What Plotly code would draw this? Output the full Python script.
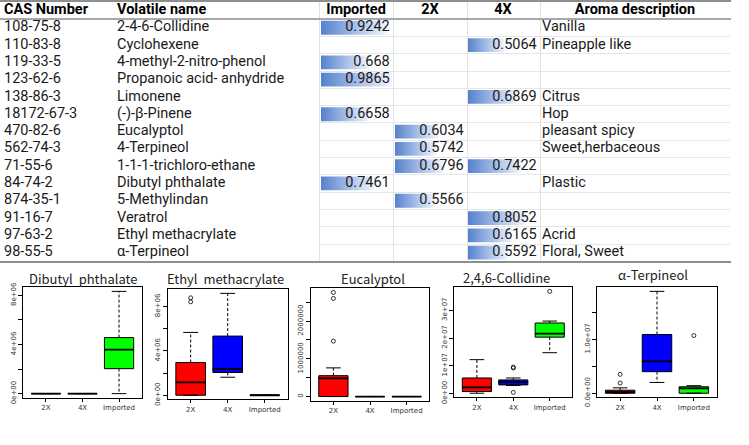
import plotly.graph_objects as go

W, H = 749, 445

# ---------------- table data ----------------
cas_numbers = ["108-75-8", "110-83-8", "119-33-5", "123-62-6", "138-86-3", "18172-67-3",
               "470-82-6", "562-74-3", "71-55-6", "84-74-2", "874-35-1", "91-16-7",
               "97-63-2", "98-55-5"]
volatile_names = ["2-4-6-Collidine", "Cyclohexene", "4-methyl-2-nitro-phenol",
                  "Propanoic acid- anhydride", "Limonene", "(-)-β-Pinene", "Eucalyptol",
                  "4-Terpineol", "1-1-1-trichloro-ethane", "Dibutyl phthalate",
                  "5-Methylindan", "Veratrol", "Ethyl methacrylate", "α-Terpineol"]
imported_vals = [0.9242, None, 0.668, 0.9865, None, 0.6658, None, None, None, 0.7461,
                 None, None, None, None]
x2_vals = [None, None, None, None, None, None, 0.6034, 0.5742, 0.6796, None, 0.5566,
           None, None, None]
x4_vals = [None, 0.5064, None, None, 0.6869, None, None, None, 0.7422, None, None,
           0.8052, 0.6165, 0.5592]
aroma = ["Vanilla", "Pineapple like", "", "", "Citrus", "Hop", "pleasant spicy",
         "Sweet,herbaceous", "", "Plastic", "", "", "Acrid", "Floral, Sweet"]
headers = ["CAS Number", "Volatile name", "Imported", "2X", "4X", "Aroma description"]

# ---------------- boxplot data ----------------
groups = ["2X", "4X", "Imported"]
panel_titles = ["Dibutyl  phthalate", "Ethyl  methacrylate", "Eucalyptol",
                "2,4,6-Collidine", "α-Terpineol"]
# per group: [lower whisker, q1, median, q3, upper whisker]
dibutyl_stats = [[0, 0, 0, 0, 0], [0, 0, 0, 0, 0], [0, 2.03e6, 3.58e6, 4.56e6, 8.32e6]]
dibutyl_out = [[], [], []]
ethyl_stats = [[0, 0, 1.15e6, 2.95e6, 5.66e6], [1.62e6, 2.05e6, 2.35e6, 5.33e6, 9.18e6],
               [0, 0, 0, 0, 0]]
ethyl_out = [[8.42e6, 8.78e6], [], []]
eucal_stats = [[0, 0, 0.48e6, 0.553e6, 0.76e6], [0, 0, 0, 0, 0], [0, 0, 0, 0, 0]]
eucal_out = [[1.47e6, 2.6e6, 2.76e6], [], []]
collid_stats = [[0.01e7, 0.07e7, 0.22e7, 0.56e7, 1.22e7], [0.29e7, 0.31e7, 0.41e7, 0.49e7, 0.56e7],
                [1.47e7, 2.03e7, 2.16e7, 2.54e7, 2.61e7]]
collid_out = [[], [0.92e7, 0.95e7, 0.04e7], [3.68e7]]
terp_stats = [[0, 0, 0.02e7, 0.056e7, 0.10e7], [0.20e7, 0.40e7, 0.59e7, 1.09e7, 1.89e7],
              [0, 0, 0.09e7, 0.12e7, 0.14e7]]
terp_out = [[0.19e7, 0.35e7], [], [1.07e7]]

tickvals_list = [[0, 2e6, 4e6, 6e6, 8e6], [0, 2e6, 4e6, 6e6, 8e6],
                 [0, 5e5, 1e6, 1.5e6, 2e6, 2.5e6], [0, 1e7, 2e7, 3e7],
                 [0, 5e6, 1e7, 1.5e7]]
ticktext_list = [["0e+00", "", "4e+06", "", "8e+06"], ["0e+00", "", "4e+06", "", "8e+06"],
                 ["0", "", "1000000", "", "2000000", ""], ["0e+00", "1e+07", "2e+07", "3e+07"],
                 ["0.0e+00", "", "1.0e+07", ""]]

all_stats = [dibutyl_stats, ethyl_stats, eucal_stats, collid_stats, terp_stats]
all_out = [dibutyl_out, ethyl_out, eucal_out, collid_out, terp_out]
box_colors = ["#FF0000", "#0000FF", "#00FF00"]

# ---------------- layout geometry (pixels) ----------------
TFONT = "Roboto"
FONT = "Noto Sans CJK KR"
TXT = "#1a1a1a"
TSIZE = 14.5
table_top, table_bot = 1.8, 261.3
tdom = [1 - table_bot / H, 1 - table_top / H]
TABLE_R = 730.5
col_bar = [(321, 393), (395, 467), (468, 540)]
num_anchor = 0.955
cas_x, name_x, aroma_x = 4, 117, 542
head_centers = [356, 430, 503, 635]

panels_px = [(23.3, 141.7, 287.3, 397.7), (167.7, 287.7, 289.3, 399.3),
             (310.7, 429.3, 288.3, 400.7), (454.3, 572.3, 287.3, 397.3),
             (597.3, 716.7, 287.3, 397.3)]
title_px = [(83, 278), (225, 278), (373, 278), (506, 277), (653, 274)]

fig = go.Figure()
n = len(cas_numbers)
rows = list(range(n))

# ---------- table text ----------
for xs, txts in [(cas_x, cas_numbers), (name_x, volatile_names), (aroma_x, aroma)]:
    fig.add_trace(go.Scatter(x=[xs] * n, y=rows, text=txts, mode="text",
                             textposition="middle right",
                             textfont=dict(family=TFONT, size=TSIZE, color=TXT),
                             xaxis="x", yaxis="y", hoverinfo="skip"))
fig.add_trace(go.Scatter(x=[cas_x, name_x], y=[-1, -1], text=["<b>%s</b>" % h for h in headers[:2]],
                         mode="text", textposition="middle right",
                         textfont=dict(family=TFONT, size=TSIZE, color="#000"),
                         xaxis="x", yaxis="y", hoverinfo="skip"))
fig.add_trace(go.Scatter(x=head_centers, y=[-1] * 4, text=["<b>%s</b>" % h for h in headers[2:]],
                         mode="text", textposition="middle center",
                         textfont=dict(family=TFONT, size=TSIZE, color="#000"),
                         xaxis="x", yaxis="y", hoverinfo="skip"))

# ---------- data bars ----------
for ci, vals in enumerate([imported_vals, x2_vals, x4_vals]):
    ax = "x%d" % (ci + 2)
    for r, v in enumerate(vals):
        if v is None:
            continue
        fig.add_trace(go.Scatter(
            x=[0, v, v, 0, 0], y=[r - 0.4, r - 0.4, r + 0.4, r + 0.4, r - 0.4],
            mode="lines", line=dict(width=0), fill="toself",
            fillgradient=dict(type="horizontal",
                              colorscale=[[0, "#5581CC"], [0.5, "#A3BCE8"], [1, "#F3F6FC"]]),
            xaxis=ax, yaxis="y", hoverinfo="skip"))
    rr = [r for r, v in enumerate(vals) if v is not None]
    fig.add_trace(go.Scatter(x=[num_anchor] * len(rr), y=rr, text=[repr(vals[r]) for r in rr],
                             mode="text", textposition="middle left",
                             textfont=dict(family=TFONT, size=TSIZE, color=TXT),
                             xaxis=ax, yaxis="y", hoverinfo="skip"))

# row-divider helper subplot
fig.add_trace(go.Scatter(x=[0], y=[0], mode="markers", marker=dict(opacity=0),
                         xaxis="x6", yaxis="y6", hoverinfo="skip"))

layout = dict(
    width=W, height=H, margin=dict(l=0, r=0, t=0, b=0, autoexpand=False),
    paper_bgcolor="white", plot_bgcolor="rgba(0,0,0,0)", showlegend=False,
    xaxis=dict(domain=[0, TABLE_R / W], range=[0, TABLE_R], anchor="y", automargin=False,
               showline=True, mirror=True, linecolor="#8E8E8E", linewidth=2,
               tickvals=[319, 393, 467, 540, 730], showticklabels=False, ticks="",
               showgrid=True, gridcolor="#E2E2E2", gridwidth=1, zeroline=False, fixedrange=True),
    yaxis=dict(domain=tdom, range=[n - 0.5, -1.5], anchor="x", tickvals=[-0.5], automargin=False,
               showgrid=True, gridcolor="#A8A8A8", gridwidth=2, showticklabels=False,
               ticks="", zeroline=False, showline=False),
    xaxis6=dict(domain=[319 / W, 730 / W], range=[0, 1], anchor="y6", visible=False,
                automargin=False),
    yaxis6=dict(domain=tdom, range=[n - 0.5, -1.5], anchor="x6", automargin=False,
                tickvals=[r + 0.5 for r in range(n - 1)], showgrid=True,
                gridcolor="#E6E6E6", gridwidth=1, showticklabels=False, ticks="",
                zeroline=False, showline=False),
)
for ci, (a, b) in enumerate(col_bar):
    layout["xaxis%d" % (ci + 2)] = dict(domain=[a / W, b / W], range=[0, 1], anchor="y",
                                        visible=False, fixedrange=True, automargin=False)

# ---------- boxplot panels ----------
annotations = []
for p in range(5):
    xi = 7 + p
    xa, ya = "x%d" % xi, "y%d" % xi
    stats, outs = all_stats[p], all_out[p]
    for g in range(3):
        lo, q1, med, q3, hi = stats[g]
        pos = g + 1
        fig.add_trace(go.Box(x=[pos], q1=[q1], median=[med], q3=[q3], lowerfence=[q1],
                             upperfence=[q3], width=0.8, whiskerwidth=0, boxpoints=False,
                             fillcolor=box_colors[g], line=dict(color="black", width=1),
                             xaxis=xa, yaxis=ya, hoverinfo="skip"))
        fig.add_trace(go.Scatter(x=[pos, pos, None, pos, pos], y=[q3, hi, None, q1, lo],
                                 mode="lines", line=dict(color="black", width=1, dash="3px,2px"),
                                 xaxis=xa, yaxis=ya, hoverinfo="skip"))
        fig.add_trace(go.Scatter(x=[pos - 0.2, pos + 0.2, None, pos - 0.2, pos + 0.2],
                                 y=[hi, hi, None, lo, lo], mode="lines",
                                 line=dict(color="black", width=1),
                                 xaxis=xa, yaxis=ya, hoverinfo="skip"))
        fig.add_trace(go.Scatter(x=[pos - 0.4, pos + 0.4], y=[med, med], mode="lines",
                                 line=dict(color="black", width=1.8),
                                 xaxis=xa, yaxis=ya, hoverinfo="skip"))
        if outs[g]:
            fig.add_trace(go.Scatter(x=[pos] * len(outs[g]), y=outs[g], mode="markers",
                                     marker=dict(symbol="circle-open", size=4, color="black",
                                                 line=dict(width=0.8)),
                                     xaxis=xa, yaxis=ya, hoverinfo="skip"))
    vals = [v for s in stats for v in s] + [v for o in outs for v in o]
    vmin, vmax = min(vals), max(vals)
    span = vmax - vmin
    l, r, t, b = panels_px[p]
    layout["xaxis%d" % xi] = dict(
        domain=[l / W, r / W], range=[0.38, 3.62], anchor=ya, tickvals=[1, 2, 3],
        ticktext=groups, showline=True, mirror=True, linecolor="black", linewidth=1,
        ticks="outside", ticklen=3, tickcolor="black", tickwidth=1, showgrid=False,
        zeroline=False, automargin=False,
        tickfont=dict(family="DejaVu Sans", size=7, color="#333"))
    layout["yaxis%d" % xi] = dict(
        domain=[1 - b / H, 1 - t / H], range=[vmin - 0.04 * span, vmax + 0.04 * span],
        anchor=xa, tickvals=tickvals_list[p], ticktext=ticktext_list[p], tickangle=-90,
        showline=True, mirror=True, linecolor="black", linewidth=1, ticks="outside",
        ticklen=4, tickcolor="black", tickwidth=1, showgrid=False, zeroline=False,
        automargin=False, tickfont=dict(family="DejaVu Sans", size=7, color="#333"))
    cx, cy = title_px[p]
    annotations.append(dict(text=panel_titles[p], x=cx / W, y=1 - cy / H, xref="paper",
                            yref="paper", xanchor="center", yanchor="middle", showarrow=False,
                            font=dict(family=FONT, size=13, color="#222")))

layout["annotations"] = annotations
fig.update_layout(**layout)
fig.write_html("out.html", config={"displayModeBar": False, "staticPlot": True},
               post_script="document.body.style.margin='0px';")
